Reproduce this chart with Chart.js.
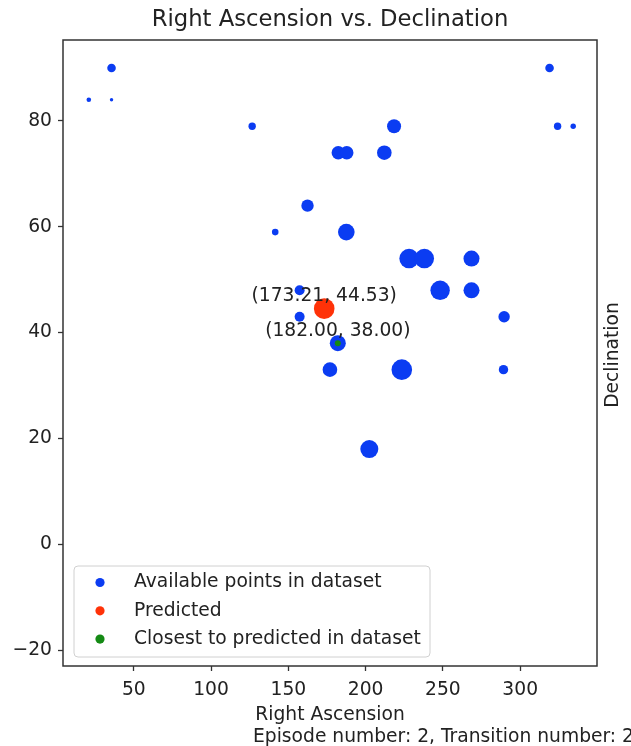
<!DOCTYPE html>
<html lang="en">
<head>
  <meta charset="UTF-8">
  <title>Right Ascension vs. Declination</title>
  <script src="https://cdn.jsdelivr.net/npm/chart.js"></script>
  <style>
    body {
      margin: 0;
      background: #fff;
    }
    #wrap {
      width: 631px;
      height: 746px;
    }
  </style>
</head>
<body>
  <div id="wrap">
    <canvas id="skyChart" width="631" height="746"></canvas>
  </div>

  <script>
    // catalogue stars (RA / Dec in degrees), marker radius in px
    const raValues = [35.6, 20.9, 35.6, 126.6, 218.4, 182.3, 187.8, 212.1, 162.4, 141.5,
                      187.5, 228.1, 238.0, 268.5, 248.2, 268.5, 157.3, 157.3, 289.6, 182.0,
                      176.9, 223.4, 289.2, 202.4, 319.0, 324.2, 334.3];
    const decValues = [90, 84, 84, 79, 79, 74, 74, 74, 64, 59,
                       59, 54, 54, 54, 48, 48, 48, 43, 43, 38,
                       33, 33, 33, 18, 90, 79, 79];
    const pointSizes = [4.3, 2.3, 1.7, 3.7, 7, 6.7, 6.7, 7.3, 6.2, 3.3,
                        8.3, 9.7, 9.7, 8, 9.7, 8, 5, 5, 5.7, 8,
                        7.3, 10.3, 4.7, 9, 4.3, 3.7, 2.7];

    // model output and its nearest neighbour
    const predicted = [173.21, 44.53];
    const closest = [182.00, 38.00];

    const xTicks = [50, 100, 150, 200, 250, 300];
    const yTicks = [-20, 0, 20, 40, 60, 80];
    const xRange = [4.2, 349.7];
    const yRange = [-23.0, 95.3];

    const titleText = "Right Ascension vs. Declination";
    const episodeText = "Episode number: 2, Transition number: 2";

    const textColor = "#222";
    const fontSize = 18.7;
    const font = fontSize + "px 'DejaVu Sans'";
    Chart.defaults.font.family = "'DejaVu Sans', sans-serif";
    Chart.defaults.color = textColor;

    const stars = raValues.map((ra, i) => ({ x: ra, y: decValues[i] }));

    // frame, title, annotations, legend, side label and footer
    const extras = {
      id: "extras",
      afterDatasetsDraw(chart) {
        const { ctx, scales: { x, y } } = chart;
        ctx.save();
        ctx.font = font;
        ctx.fillStyle = textColor;
        ctx.textAlign = "center";
        ctx.textBaseline = "middle";
        [predicted, closest].forEach(p => {
          const px = x.getPixelForValue(p[0]);
          const py = y.getPixelForValue(p[1]);
          ctx.fillText("(" + p[0].toFixed(2) + ", " + p[1].toFixed(2) + ")", px, py - 12.5);
        });
        ctx.restore();
      },
      afterDraw(chart) {
        const { ctx, chartArea: a } = chart;
        const midX = (a.left + a.right) / 2;
        ctx.save();
        ctx.strokeStyle = "#333";
        ctx.lineWidth = 1.5;
        ctx.strokeRect(a.left, a.top, a.right - a.left, a.bottom - a.top);

        ctx.fillStyle = textColor;
        ctx.textBaseline = "middle";
        ctx.textAlign = "center";
        ctx.font = "22.7px 'DejaVu Sans'";
        ctx.fillText(titleText, midX, 20);

        // legend box
        const lx = a.left + 11, ly = 566, lw = 356, lh = 91;
        ctx.beginPath();
        ctx.roundRect(lx, ly, lw, lh, 4);
        ctx.fillStyle = "rgba(255,255,255,0.85)";
        ctx.fill();
        ctx.strokeStyle = "#d0d0d0";
        ctx.lineWidth = 1;
        ctx.stroke();
        ctx.font = font;
        ctx.textAlign = "left";
        chart.data.datasets.forEach((ds, i) => {
          const rowY = 582.5 + i * 28.3;
          ctx.beginPath();
          ctx.arc(100, rowY, 4.6, 0, Math.PI * 2);
          ctx.fillStyle = ds.backgroundColor;
          ctx.fill();
          ctx.fillStyle = textColor;
          ctx.fillText(ds.label, 134, rowY);
        });

        // right-hand axis label
        ctx.save();
        ctx.translate(613, (a.top + a.bottom) / 2 + 2);
        ctx.rotate(-Math.PI / 2);
        ctx.textAlign = "center";
        ctx.fillText("Declination", 0, 0);
        ctx.restore();

        ctx.textAlign = "left";
        ctx.fillText(episodeText, 253, 737);
        ctx.restore();
      }
    };

    new Chart(document.getElementById("skyChart"), {
      type: "scatter",
      data: {
        datasets: [
          {
            label: "Available points in dataset",
            data: stars,
            backgroundColor: "#0b3cf2",
            pointRadius: pointSizes,
            pointHoverRadius: pointSizes,
            borderWidth: 0,
            order: 3
          },
          {
            label: "Predicted",
            data: [{ x: predicted[0], y: predicted[1] }],
            backgroundColor: "#ff3208",
            pointRadius: 10.3,
            borderWidth: 0,
            order: 2
          },
          {
            label: "Closest to predicted in dataset",
            data: [{ x: closest[0], y: closest[1] }],
            backgroundColor: "#148a14",
            pointRadius: 3,
            borderWidth: 0,
            order: 1
          }
        ]
      },
      options: {
        responsive: false,
        animation: false,
        layout: { padding: { top: 40, left: 0, right: 34, bottom: 0 } },
        plugins: {
          legend: { display: false },
          tooltip: { enabled: false },
          title: { display: false }
        },
        scales: {
          x: {
            type: "linear",
            min: xRange[0],
            max: xRange[1],
            afterBuildTicks: s => { s.ticks = xTicks.map(v => ({ value: v })); },
            afterFit: s => { s.height = 80; },
            ticks: { font: { size: fontSize }, padding: 8, color: textColor, includeBounds: false },
            grid: { drawOnChartArea: false, tickLength: 5, color: "#333", tickWidth: 1.3 },
            border: { display: false },
            title: {
              display: true,
              text: "Right Ascension",
              font: { size: fontSize },
              color: textColor,
              padding: { top: 0, bottom: 19.5 }
            }
          },
          y: {
            type: "linear",
            min: yRange[0],
            max: yRange[1],
            afterBuildTicks: s => { s.ticks = yTicks.map(v => ({ value: v })); },
            afterFit: s => { s.width = 63; },
            ticks: {
              font: { size: fontSize },
              padding: 6,
              color: textColor,
              includeBounds: false,
              callback: v => (v < 0 ? "\u2212" + Math.abs(v) : String(v))
            },
            grid: { drawOnChartArea: false, tickLength: 5, color: "#333", tickWidth: 1.3 },
            border: { display: false }
          }
        }
      },
      plugins: [extras]
    });
  </script>
</body>
</html>
